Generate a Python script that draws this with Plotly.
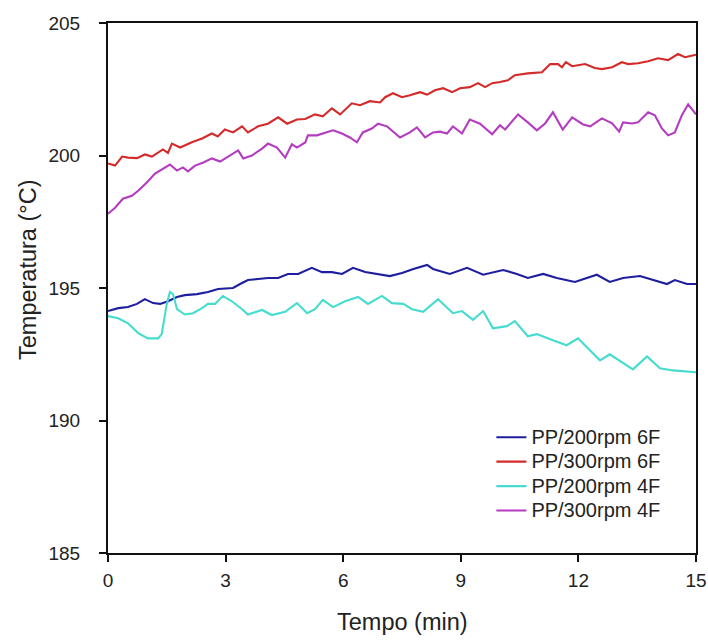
import plotly.graph_objects as go

# ---- data ----
t_red = [0.0, 0.18, 0.36, 0.51, 0.74, 0.94, 1.12, 1.40, 1.53, 1.63, 1.84, 2.14, 2.40, 2.65, 2.80, 2.98,
         3.19, 3.42, 3.57, 3.83, 4.08, 4.34, 4.57, 4.82, 5.03, 5.28, 5.48, 5.71, 5.92, 6.22, 6.43, 6.68,
         6.94, 7.07, 7.27, 7.50, 7.70, 7.96, 8.14, 8.34, 8.55, 8.78, 8.98, 9.23, 9.44, 9.62, 9.80, 10.00,
         10.20, 10.38, 10.71, 11.07, 11.28, 11.48, 11.58, 11.68, 11.84, 12.17, 12.42, 12.60, 12.86, 13.11,
         13.27, 13.52, 13.78, 14.03, 14.29, 14.54, 14.72, 15.0]
v_red = [199.70, 199.62, 199.96, 199.92, 199.90, 200.04, 199.96, 200.23, 200.10, 200.45, 200.30, 200.50,
         200.64, 200.83, 200.72, 200.98, 200.87, 201.10, 200.87, 201.10, 201.20, 201.44, 201.20, 201.36,
         201.38, 201.55, 201.48, 201.78, 201.55, 201.97, 201.90, 202.05, 202.00, 202.20, 202.35, 202.20,
         202.27, 202.39, 202.30, 202.46, 202.54, 202.39, 202.54, 202.58, 202.73, 202.58, 202.73, 202.77,
         202.84, 203.03, 203.10, 203.14, 203.45, 203.45, 203.33, 203.52, 203.37, 203.45, 203.30, 203.26,
         203.33, 203.52, 203.45, 203.48, 203.56, 203.67, 203.60, 203.83, 203.71, 203.80]

t_mag = [0.0, 0.18, 0.38, 0.61, 0.77, 0.99, 1.20, 1.40, 1.58, 1.76, 1.91, 2.04, 2.22, 2.42, 2.65, 2.86,
         3.11, 3.32, 3.45, 3.67, 3.93, 4.08, 4.31, 4.52, 4.69, 4.82, 5.03, 5.10, 5.33, 5.54, 5.74, 5.97,
         6.17, 6.35, 6.50, 6.73, 6.89, 7.12, 7.45, 7.70, 7.88, 8.09, 8.29, 8.47, 8.65, 8.80, 9.03, 9.23,
         9.49, 9.80, 10.00, 10.13, 10.46, 10.71, 10.94, 11.15, 11.35, 11.60, 11.84, 12.12, 12.30, 12.60,
         12.86, 13.04, 13.14, 13.37, 13.52, 13.78, 13.95, 14.13, 14.29, 14.46, 14.64, 14.80, 15.0]
v_mag = [197.80, 198.03, 198.37, 198.48, 198.67, 198.98, 199.32, 199.50, 199.66, 199.43, 199.55, 199.40,
         199.62, 199.73, 199.89, 199.77, 200.00, 200.19, 199.89, 200.00, 200.26, 200.45, 200.30, 199.92,
         200.42, 200.30, 200.49, 200.76, 200.76, 200.87, 200.95, 200.83, 200.68, 200.50, 200.87, 201.02,
         201.20, 201.10, 200.68, 200.87, 201.06, 200.68, 200.87, 200.90, 200.83, 201.10, 200.83, 201.36,
         201.20, 200.80, 201.14, 200.98, 201.55, 201.25, 200.95, 201.21, 201.63, 200.98, 201.44, 201.17,
         201.10, 201.40, 201.21, 200.90, 201.25, 201.21, 201.25, 201.63, 201.52, 201.02, 200.76, 200.87,
         201.52, 201.93, 201.55]

t_blue = [0.0, 0.26, 0.51, 0.74, 0.94, 1.15, 1.33, 1.53, 1.76, 1.96, 2.27, 2.55, 2.81, 3.04, 3.19, 3.37,
          3.57, 3.83, 4.08, 4.34, 4.59, 4.85, 5.20, 5.46, 5.71, 5.97, 6.25, 6.56, 6.89, 7.19, 7.50, 7.79,
          8.14, 8.29, 8.72, 9.16, 9.57, 10.08, 10.43, 10.71, 11.10, 11.45, 11.91, 12.47, 12.80, 13.14,
          13.57, 13.90, 14.26, 14.46, 14.77, 15.0]
v_blue = [194.13, 194.24, 194.28, 194.40, 194.58, 194.43, 194.40, 194.50, 194.66, 194.73, 194.77, 194.85,
          194.96, 195.00, 195.00, 195.15, 195.30, 195.34, 195.38, 195.38, 195.53, 195.53, 195.76, 195.60,
          195.60, 195.53, 195.76, 195.60, 195.53, 195.45, 195.57, 195.72, 195.87, 195.72, 195.53, 195.76,
          195.50, 195.68, 195.53, 195.38, 195.53, 195.38, 195.23, 195.50, 195.23, 195.38, 195.45, 195.30,
          195.15, 195.30, 195.15, 195.15]

t_cyan = [0.0, 0.26, 0.51, 0.77, 1.02, 1.28, 1.37, 1.50, 1.58, 1.66, 1.76, 1.96, 2.17, 2.40, 2.55, 2.73,
          2.93, 3.16, 3.42, 3.57, 3.93, 4.18, 4.52, 4.82, 5.08, 5.28, 5.48, 5.74, 6.05, 6.38, 6.63, 6.99,
          7.24, 7.53, 7.76, 8.04, 8.42, 8.80, 9.03, 9.31, 9.57, 9.82, 10.18, 10.38, 10.71, 10.94, 11.35,
          11.70, 11.99, 12.55, 12.80, 13.39, 13.75, 14.08, 14.41, 15.0]
v_cyan = [193.94, 193.86, 193.67, 193.30, 193.10, 193.10, 193.26, 194.40, 194.85, 194.77, 194.20, 194.00,
          194.05, 194.24, 194.40, 194.40, 194.70, 194.50, 194.20, 194.00, 194.17, 193.98, 194.10, 194.43,
          194.05, 194.20, 194.55, 194.28, 194.50, 194.66, 194.40, 194.70, 194.43, 194.40, 194.20, 194.10,
          194.58, 194.05, 194.13, 193.80, 194.13, 193.48, 193.56, 193.75, 193.18, 193.26, 193.03, 192.84,
          193.10, 192.27, 192.50, 191.93, 192.42, 191.97, 191.89, 191.82]

names = ["PP/200rpm 6F", "PP/300rpm 6F", "PP/200rpm 4F", "PP/300rpm 4F"]
colors = ["#1e1e9e", "#d42a2a", "#45dcd0", "#b43cc0"]
x_ticks = [0, 3, 6, 9, 12, 15]
y_ticks = [185, 190, 195, 200, 205]

FONT = "Liberation Sans, Arial, sans-serif"

fig = go.Figure()
series = [(t_blue, v_blue), (t_red, v_red), (t_cyan, v_cyan), (t_mag, v_mag)]
for (tx, vy), nm, col in zip(series, names, colors):
    fig.add_trace(go.Scatter(x=tx, y=vy, mode="lines",
                             name="<span style='font-size:20px'>" + nm + "</span>",
                             line=dict(color=col, width=2.1)))

axis_common = dict(showgrid=False, zeroline=False, showline=True, linecolor="#111",
                   linewidth=2, mirror=True, ticks="outside", ticklen=7, tickwidth=1.5,
                   tickcolor="#111", automargin=False,
                   tickfont=dict(family=FONT, size=19, color="#222"))
fig.update_xaxes(range=[0, 15], tickvals=x_ticks, ticklabelstandoff=2, **axis_common)
fig.update_yaxes(range=[185, 205], tickvals=y_ticks, ticklabelstandoff=15, **axis_common)

fig.add_annotation(text="Tempo (min)", xref="paper", yref="paper", x=0.5, y=0,
                   xanchor="center", yanchor="middle", yshift=-69, showarrow=False,
                   font=dict(family=FONT, size=23.5, color="#222"))
fig.add_annotation(text="Temperatura (°C)", xref="paper", yref="paper", x=0, y=0.5,
                   xanchor="center", yanchor="middle", xshift=-80, yshift=18, textangle=-90,
                   showarrow=False, font=dict(family=FONT, size=23.5, color="#222"))

fig.update_layout(
    width=708, height=641,
    margin=dict(l=108, r=12, t=23, b=88, autoexpand=False),
    paper_bgcolor="white", plot_bgcolor="white",
    showlegend=True,
    legend=dict(x=0.652, y=0.251, xanchor="left", yanchor="top",
                bgcolor="rgba(0,0,0,0)", font=dict(family=FONT, size=16.5, color="#222"),
                tracegroupgap=0),
)

fig.write_html("out.html", config={"displayModeBar": False},
               post_script="document.body.style.margin='0px';")
